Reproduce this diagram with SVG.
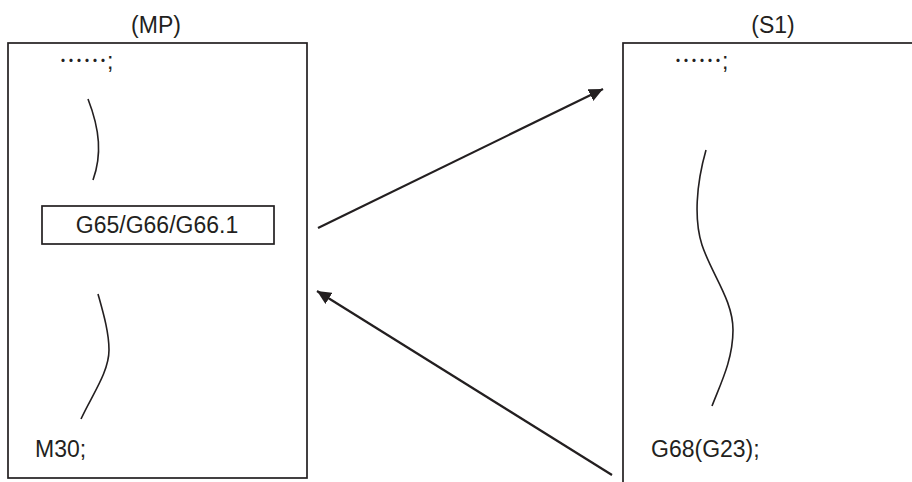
<svg xmlns="http://www.w3.org/2000/svg" width="912" height="482" viewBox="0 0 912 482">
<style>
.box{fill:none;stroke:#231f20;stroke-width:1.7}
.curve{fill:none;stroke:#231f20;stroke-width:1.6}
.conn{fill:none;stroke:#231f20;stroke-width:2.2}
text{font-family:"Liberation Sans",Arial,sans-serif;font-size:23px;fill:#231f20}
.dots{font-family:"Noto Sans CJK JP","Liberation Sans",sans-serif;font-size:24px}
</style>
<defs>
<marker id="ah" markerUnits="userSpaceOnUse" markerWidth="15" markerHeight="13" refX="14" refY="6.5" orient="auto">
<path d="M0,0 L14,6.5 L0,13 z" fill="#231f20"/>
</marker>
</defs>
<rect width="912" height="482" fill="#ffffff"/>
<g id="mp">
<text x="156" y="33" text-anchor="middle">(MP)</text>
<rect class="box" x="8" y="43" width="299" height="435"/>
<text x="59" y="69"><tspan class="dots">……</tspan><tspan>;</tspan></text>
<path class="curve" d="M88,99 C100,130 102,155 93,180"/>
<path class="curve" d="M98,294 C103,312 109,332 109,350 C109,372 92,395 81,419"/>
<text x="35" y="457">M30;</text>
</g>
<g id="g65">
<rect class="box" x="42" y="206" width="232" height="38"/>
<text x="157" y="233" text-anchor="middle">G65/G66/G66.1</text>
</g>
<g id="s1">
<text x="773" y="33" text-anchor="middle">(S1)</text>
<rect class="box" x="623" y="43" width="300" height="450"/>
<text x="674" y="69"><tspan class="dots">……</tspan><tspan>;</tspan></text>
<path class="curve" d="M706,150 C696,185 694,220 702,245 C712,275 733,300 733,330 C733,360 720,385 712,406"/>
<text x="651" y="457">G68(G23);</text>
</g>
<g id="connectors">
<line class="conn" x1="318" y1="228" x2="603" y2="89" marker-end="url(#ah)"/>
<line class="conn" x1="612" y1="475" x2="317" y2="291" marker-end="url(#ah)"/>
</g>
</svg>
